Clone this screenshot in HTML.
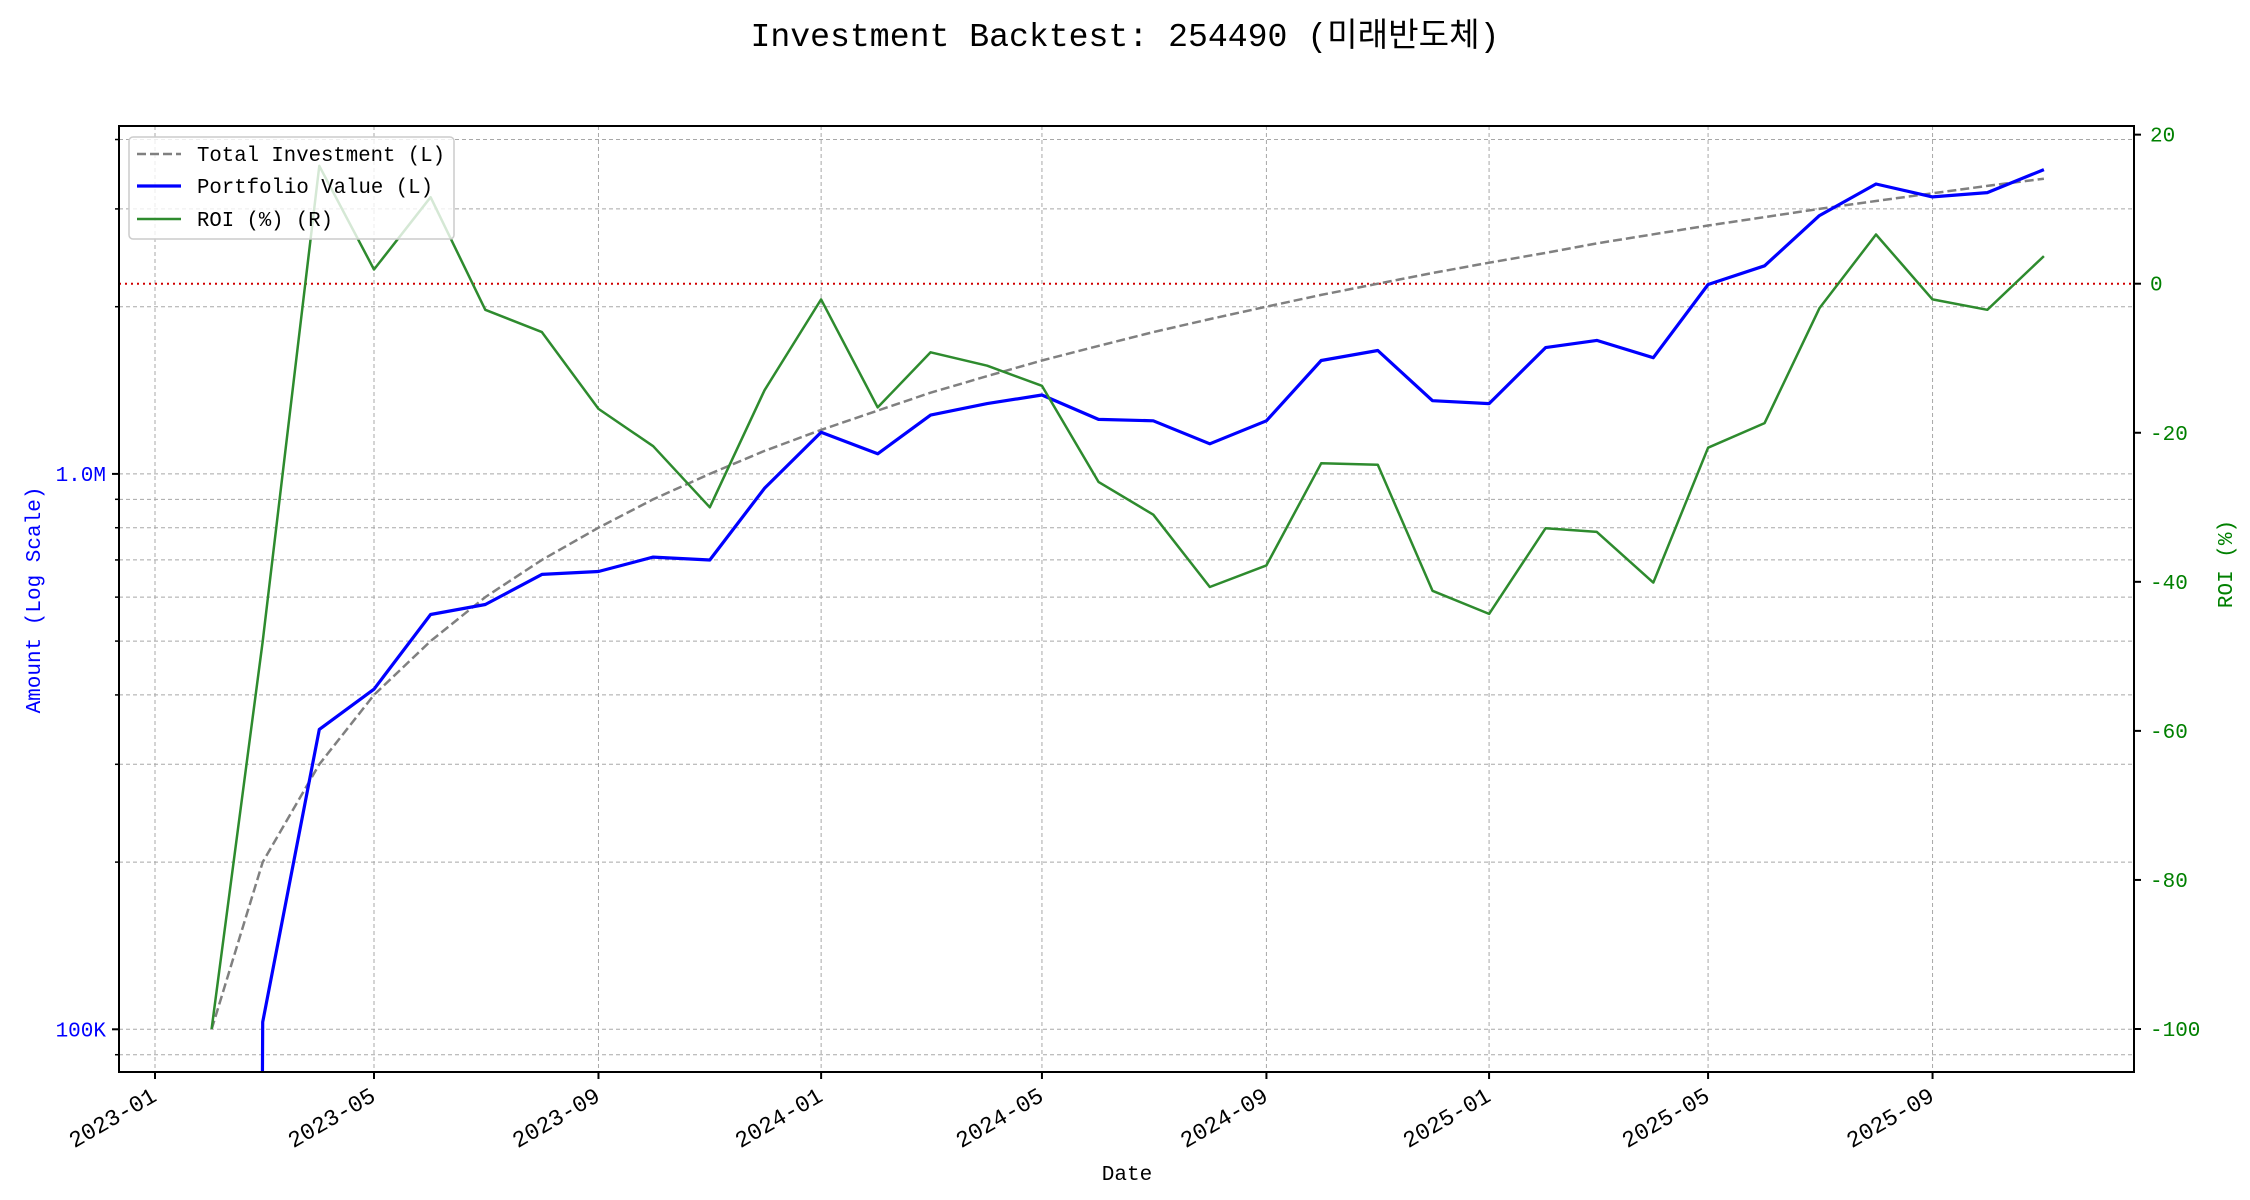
<!DOCTYPE html>
<html><head><meta charset="utf-8"><style>
html,body{margin:0;padding:0;background:#fff;overflow:hidden;width:2250px;height:1200px;}
svg{display:block;}
text{font-family:"Liberation Mono","DejaVu Sans Mono","Noto Sans CJK KR",monospace;}
</style></head><body>
<svg id="s" width="2250" height="1200" viewBox="0 0 2250 1200" xmlns="http://www.w3.org/2000/svg">
<rect width="2250" height="1200" fill="#fff"/>
<defs><clipPath id="ax"><rect x="119" y="126" width="2015" height="946"/></clipPath></defs>
<g id="grid"></g>
<line x1="119" x2="2134" y1="283.7" y2="283.7" stroke="#d00000" stroke-width="2" stroke-dasharray="2,4"/>
<g id="series" clip-path="url(#ax)"></g>
<rect x="119" y="126" width="2015" height="946" fill="none" stroke="#000" stroke-width="2"/>
<g id="ticks"></g>
<text x="1125" y="46" font-size="33" text-anchor="middle" textLength="749" lengthAdjust="spacingAndGlyphs">Investment Backtest: 254490 (미래반도체)</text>
<text x="1127" y="1180" font-size="21" text-anchor="middle">Date</text>
<text transform="translate(40,600) rotate(-90)" font-size="21" fill="#0000ff" text-anchor="middle">Amount (Log Scale)</text>
<text transform="translate(2232,564) rotate(-90)" font-size="21" fill="#008000" text-anchor="middle">ROI (%)</text>
<g>
<rect x="129" y="137" width="325" height="102" rx="4" fill="#fff" fill-opacity="0.8" stroke="#ccc" stroke-width="1.5"/>
<line x1="137" x2="181" y1="154" y2="154" stroke="#808080" stroke-width="2.5" stroke-dasharray="9,4"/>
<line x1="137" x2="181" y1="186" y2="186" stroke="#0000ff" stroke-width="3.2"/>
<line x1="137" x2="181" y1="219" y2="219" stroke="#2e8b2e" stroke-width="2.5"/>
<text x="197" y="161" font-size="21" textLength="248" lengthAdjust="spacingAndGlyphs">Total Investment (L)</text>
<text x="197" y="193" font-size="21" textLength="236" lengthAdjust="spacingAndGlyphs">Portfolio Value (L)</text>
<text x="197" y="226" font-size="21" textLength="136" lengthAdjust="spacingAndGlyphs">ROI (%) (R)</text>
</g>
</svg>
<script>
(function(){
var NS="http://www.w3.org/2000/svg";
function el(t,a,p,txt){var e=document.createElementNS(NS,t);for(var k in a)e.setAttribute(k,a[k]);if(txt!=null)e.textContent=txt;p.appendChild(e);return e;}
var g=document.getElementById('grid'),sr=document.getElementById('series'),tk=document.getElementById('ticks');
var t0=Date.UTC(2023,0,1);
function X(y,m){return 155+(Date.UTC(y,m,1)-t0)/864e5*1.825;}
function YL(v){return 1029.3-555.4*Math.log10(v/1e5);}
function YR(r){return 283.7-7.453*r;}
for(var i=0;i<9;i++){var y=2023+Math.floor(i*4/12),m=(i*4)%12;var x=X(y,m);
 el('line',{x1:x,x2:x,y1:126,y2:1072,stroke:'#a8a8a8','stroke-width':1,'stroke-dasharray':'4,3'},g);
 el('line',{x1:x,x2:x,y1:1072,y2:1079,stroke:'#000','stroke-width':2},tk);
 var lab=y+'-'+(m+1<10?'0':'')+(m+1);
 el('text',{transform:'translate('+(x+3)+',1100) rotate(-30)','font-size':23,'text-anchor':'end'},tk,lab);}
var vals=[9e4,1e5,2e5,3e5,4e5,5e5,6e5,7e5,8e5,9e5,1e6,2e6,3e6,4e6];
vals.forEach(function(v){var y=YL(v);
 el('line',{x1:119,x2:2134,y1:y,y2:y,stroke:'#a8a8a8','stroke-width':1,'stroke-dasharray':'4,3'},g);
 var maj=(v==1e5||v==1e6);
 el('line',{x1:maj?112:115,x2:119,y1:y,y2:y,stroke:'#000','stroke-width':maj?2:1.5},tk);
 if(maj)el('text',{x:106,y:y+7,'font-size':21,'text-anchor':'end',fill:'#0000ff'},tk,v==1e5?'100K':'1.0M');});
for(var r=20;r>=-100;r-=20){var y=YR(r);
 el('line',{x1:2134,x2:2141,y1:y,y2:y,stroke:'#000','stroke-width':2},tk);
 el('text',{x:2150,y:y+7,'font-size':21,fill:'#008000'},tk,String(r));}
var months=[];for(var k=1;k<=34;k++){months.push([2023+Math.floor(k/12),k%12]);}
var blueD=[null,712,508,480,428,421,400,398,388,390,340,301,316,289,281,275,292,293,309,293,251,244,279,281,242,237,249,198,185,150,128,137,134,118];
var roi=[-100,-48,15.8,1.9,11.6,-3.5,-6.5,-16.8,-21.8,-30,-14.3,-2.1,-16.6,-9.2,-11,-13.7,-26.6,-31,-40.7,-37.8,-24.1,-24.3,-41.2,-44.3,-32.8,-33.3,-40.1,-22,-18.7,-3.3,6.6,-2.1,-3.5,3.7];
var pi=[],pb=[],pg=[];
months.forEach(function(mm,i){var x=X(mm[0],mm[1]);
 pi.push(x.toFixed(1)+','+YL(1e5*(i+1)).toFixed(1));
 pg.push(x.toFixed(1)+','+YR(roi[i]).toFixed(1));
 if(blueD[i]!=null){var v=1e5*Math.pow(10,(717-blueD[i])/387);
  if(pb.length==0)pb.push((x-0.3).toFixed(1)+',1080');
  pb.push(x.toFixed(1)+','+YL(v).toFixed(1));}});
el('polyline',{points:pi.join(' '),fill:'none',stroke:'#808080','stroke-width':2.5,'stroke-dasharray':'9,4'},sr);
el('polyline',{points:pb.join(' '),fill:'none',stroke:'#0000ff','stroke-width':3.2,'stroke-linejoin':'round'},sr);
el('polyline',{points:pg.join(' '),fill:'none',stroke:'#2e8b2e','stroke-width':2.5,'stroke-linejoin':'round'},sr);
})();
</script>
</body></html>
